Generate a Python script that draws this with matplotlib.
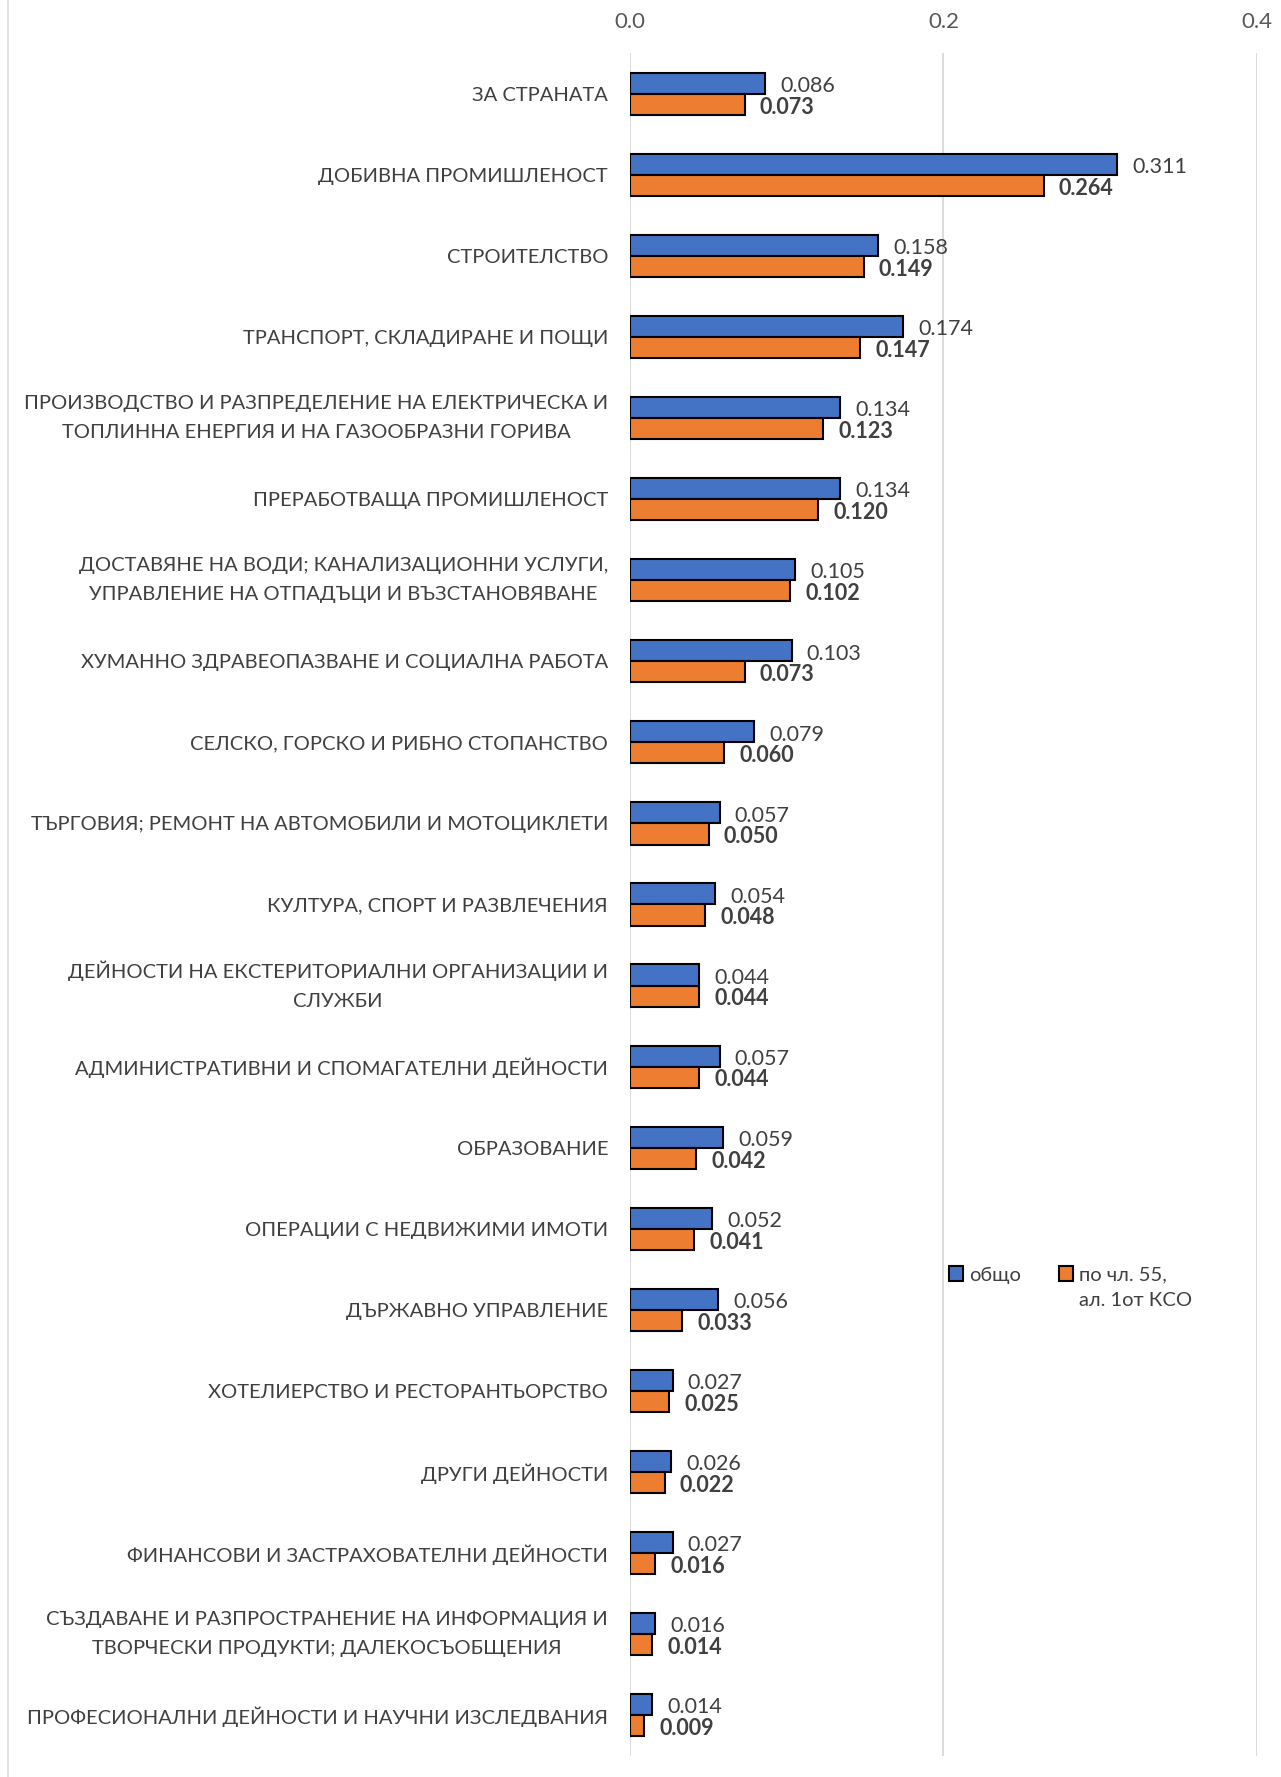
import numpy as np
import matplotlib.pyplot as plt
from matplotlib.lines import Line2D

plt.rcParams['font.family'] = ['Lato', 'DejaVu Sans']

categories = [
    "ЗА СТРАНАТА",
    "ДОБИВНА ПРОМИШЛЕНОСТ",
    "СТРОИТЕЛСТВО",
    "ТРАНСПОРТ, СКЛАДИРАНЕ И ПОЩИ",
    "ПРОИЗВОДСТВО И РАЗПРЕДЕЛЕНИЕ НА ЕЛЕКТРИЧЕСКА И\nТОПЛИННА ЕНЕРГИЯ И НА ГАЗООБРАЗНИ ГОРИВА",
    "ПРЕРАБОТВАЩА ПРОМИШЛЕНОСТ",
    "ДОСТАВЯНЕ НА ВОДИ; КАНАЛИЗАЦИОННИ УСЛУГИ,\nУПРАВЛЕНИЕ НА ОТПАДЪЦИ И ВЪЗСТАНОВЯВАНЕ",
    "ХУМАННО ЗДРАВЕОПАЗВАНЕ И СОЦИАЛНА РАБОТА",
    "СЕЛСКО, ГОРСКО И РИБНО СТОПАНСТВО",
    "ТЪРГОВИЯ; РЕМОНТ НА АВТОМОБИЛИ И МОТОЦИКЛЕТИ",
    "КУЛТУРА, СПОРТ И РАЗВЛЕЧЕНИЯ",
    "ДЕЙНОСТИ НА ЕКСТЕРИТОРИАЛНИ ОРГАНИЗАЦИИ И\nСЛУЖБИ",
    "АДМИНИСТРАТИВНИ И СПОМАГАТЕЛНИ ДЕЙНОСТИ",
    "ОБРАЗОВАНИЕ",
    "ОПЕРАЦИИ С НЕДВИЖИМИ ИМОТИ",
    "ДЪРЖАВНО УПРАВЛЕНИЕ",
    "ХОТЕЛИЕРСТВО И РЕСТОРАНТЬОРСТВО",
    "ДРУГИ ДЕЙНОСТИ",
    "ФИНАНСОВИ И ЗАСТРАХОВАТЕЛНИ ДЕЙНОСТИ",
    "СЪЗДАВАНЕ И РАЗПРОСТРАНЕНИЕ НА ИНФОРМАЦИЯ И\nТВОРЧЕСКИ ПРОДУКТИ; ДАЛЕКОСЪОБЩЕНИЯ",
    "ПРОФЕСИОНАЛНИ ДЕЙНОСТИ И НАУЧНИ ИЗСЛЕДВАНИЯ",
]

total = [0.086, 0.311, 0.158, 0.174, 0.134, 0.134, 0.105, 0.103, 0.079, 0.057, 0.054,
         0.044, 0.057, 0.059, 0.052, 0.056, 0.027, 0.026, 0.027, 0.016, 0.014]
art55 = [0.073, 0.264, 0.149, 0.147, 0.123, 0.120, 0.102, 0.073, 0.060, 0.050, 0.048,
         0.044, 0.044, 0.042, 0.041, 0.033, 0.025, 0.022, 0.016, 0.014, 0.009]

series_names = ["общо", "по чл. 55,\nал. 1от КСО"]
xticks = [0.0, 0.2, 0.4]

blue = "#4472C4"
orange = "#ED7D31"
txt = "#404040"

fig = plt.figure(figsize=(12.81, 17.77), dpi=100)
ax = fig.add_axes([0.492, 0.012, 0.489, 0.958])

y = np.arange(len(categories))
h = 0.26
b1 = ax.barh(y - h / 2, total, height=h, color=blue, edgecolor="black", linewidth=1.5,
             label=series_names[0], zorder=3)
b2 = ax.barh(y + h / 2, art55, height=h, color=orange, edgecolor="black", linewidth=1.5,
             label=series_names[1], zorder=3)

lab1 = ax.bar_label(b1, labels=[f"{v:.3f}" for v in total], padding=11, fontsize=15.5,
                    color=txt)
lab2 = ax.bar_label(b2, labels=[f"{v:.3f}" for v in art55], padding=11, fontsize=15.5,
                    color=txt, fontweight="bold")
# value labels sit a little below the bar middle, as in Excel
for a in list(lab1) + list(lab2):
    a.xyann = (11, -2)

ax.set_xlim(0, 0.4)
ax.set_ylim(len(categories) - 0.5, -0.5)
ax.set_xticks(xticks)
ax.set_xticklabels([f"{t:.1f}" for t in xticks])
ax.xaxis.tick_top()
ax.tick_params(axis="x", length=0, pad=15, labelsize=16, labelcolor="#595959")
ax.set_yticks(y)
ax.set_yticklabels(categories, fontsize=14.5, color=txt, multialignment="center",
                   linespacing=1.85)
for lbl in ax.get_yticklabels():
    if "\n" in lbl.get_text():
        lbl.set_va("center")  # two-line labels: centre the block on the tick
ax.tick_params(axis="y", length=0, pad=16)
ax.grid(axis="x", color="#d9d9d9", linewidth=1.3, zorder=0)
for s in ax.spines.values():
    s.set_visible(False)

leg = ax.legend(loc="upper left", bbox_to_anchor=(0.48, 0.298), ncol=2, frameon=False,
                fontsize=14.5, handlelength=0.7, handleheight=0.7, handletextpad=0.3,
                columnspacing=1.9, labelcolor=txt)
# put each legend square next to the first line of its label
leg._legend_handle_box.align = "top"
for col in leg._legend_handle_box.get_children():
    col.align = "left"
    for item in col.get_children():
        item.align = "top"
for t in leg.get_texts():
    t.set_linespacing(1.6)

# chart area border on the left
fig.add_artist(Line2D([0.006, 0.006], [0.0, 1.0], color="#d9d9d9", linewidth=1.2,
                      transform=fig.transFigure))

fig.savefig("out.png", dpi=100)
